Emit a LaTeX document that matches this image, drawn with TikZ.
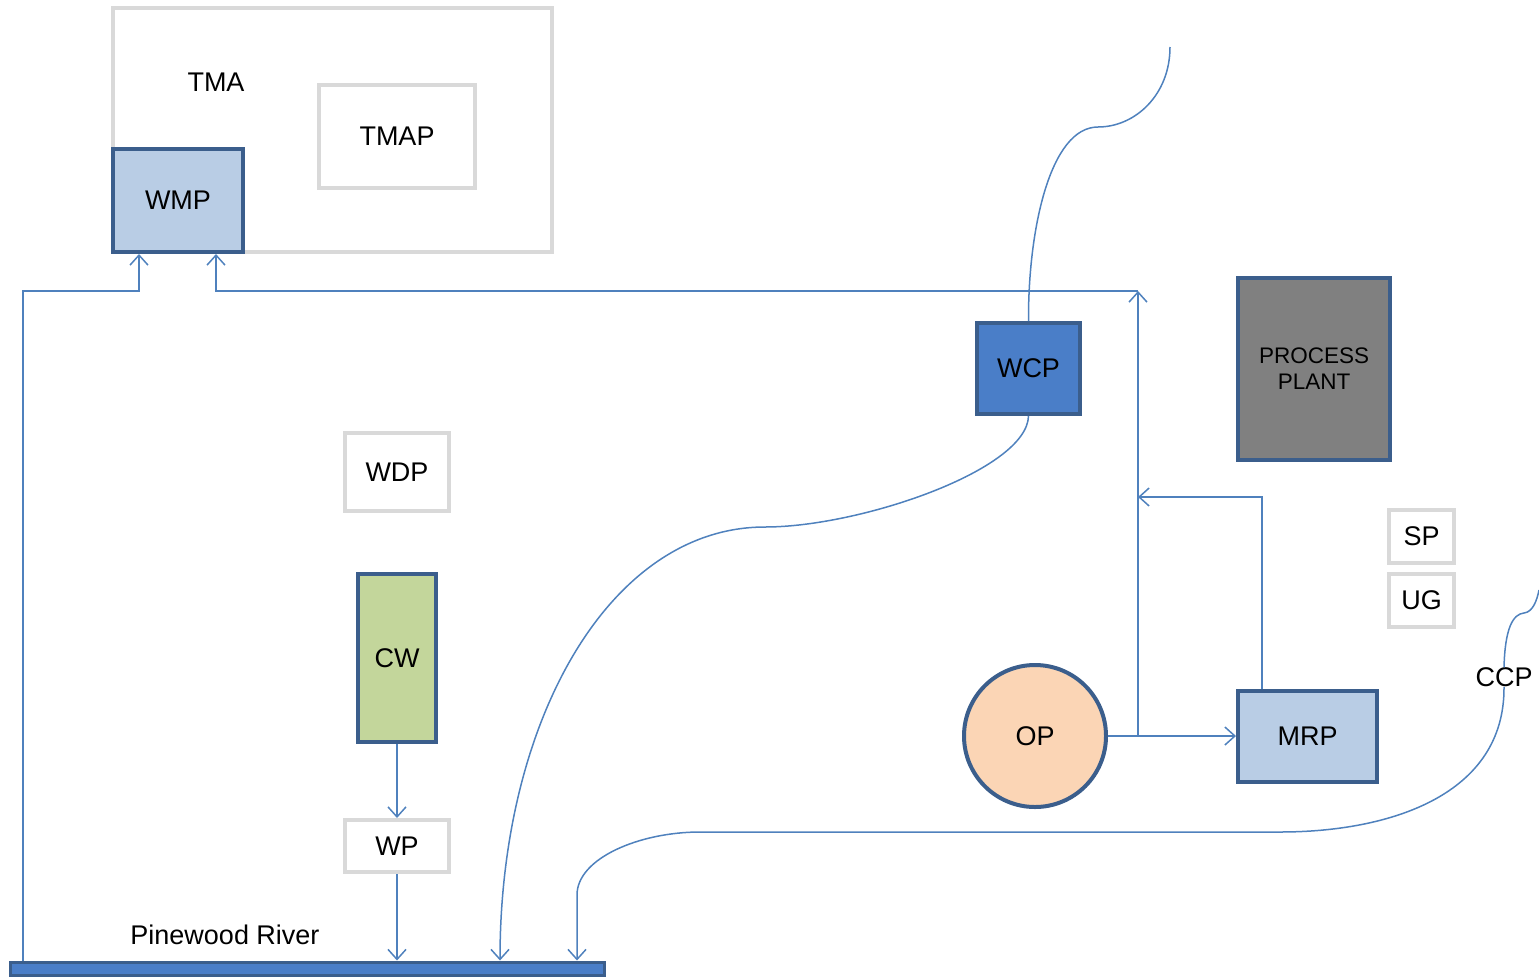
\documentclass[tikz,border=0pt]{standalone}
\usepackage{fontspec}
\setmainfont{Liberation Sans}
\usetikzlibrary{arrows.meta,calc}
\definecolor{edge}{HTML}{3B5E8C}
\definecolor{link}{HTML}{4F81BD}
\definecolor{lightgray}{HTML}{D9D9D9}
\definecolor{paleblue}{HTML}{B9CDE5}
\definecolor{midblue}{HTML}{4A7EC8}
\definecolor{cwgreen}{HTML}{C3D69B}
\definecolor{peach}{HTML}{FBD5B5}
\definecolor{ppgray}{HTML}{808080}
\tikzset{
  lbl/.style={font=\fontsize{27}{30}\selectfont, inner sep=0pt},
  graybox/.style={draw=lightgray, line width=4pt, fill=white, inner sep=0pt, font=\fontsize{27}{30}\selectfont},
  bluebox/.style={draw=edge, line width=4pt, inner sep=0pt, font=\fontsize{27}{30}\selectfont},
  arr/.style={draw=link, line width=1.5pt, -{Straight Barb[length=10pt,width=18pt,line width=1.5pt]}},
  plain/.style={draw=link, line width=1.5pt},
}
\begin{document}
\begin{tikzpicture}[x=1pt,y=-1pt]
\useasboundingbox (0,0) rectangle (1539,978);
% boxes
\node[graybox, minimum width=439pt, minimum height=244pt] (tma) at (332.5,130) {};
\node[lbl] (tmalbl) at (216,82) {TMA};
\node[graybox, minimum width=156pt, minimum height=103pt] (tmap) at (397,136.5) {TMAP};
\node[bluebox, fill=paleblue, minimum width=130pt, minimum height=103pt] (wmp) at (178,200.5) {WMP};
\node[bluebox, fill=midblue, minimum width=103pt, minimum height=91pt] (wcp) at (1028.5,368.5) {WCP};
\node[bluebox, fill=ppgray, minimum width=152pt, minimum height=182pt, align=center, font=\fontsize{22.5}{26}\selectfont] (pp) at (1314,369) {PROCESS\\PLANT};
\node[graybox, minimum width=104pt, minimum height=78pt] (wdp) at (397,472) {WDP};
\node[bluebox, fill=cwgreen, minimum width=78pt, minimum height=168pt] (cw) at (397,658) {CW};
\node[graybox, minimum width=104pt, minimum height=52pt] (wp) at (397,846) {WP};
\node[graybox, minimum width=65pt, minimum height=53pt] (sp) at (1421.5,536.5) {SP};
\node[graybox, minimum width=65pt, minimum height=53pt] (ug) at (1421.5,600.5) {UG};
\node[bluebox, fill=peach, circle, minimum size=142pt] (op) at (1035,736) {OP};
\node[bluebox, fill=paleblue, minimum width=139pt, minimum height=91pt] (mrp) at (1307.5,736) {MRP};
\node[draw=edge, fill=midblue, line width=3pt, minimum width=594pt, minimum height=13pt, inner sep=0pt] (river) at (307,968.5) {};
\node[lbl] (riverlbl) at (225,935) {Pinewood River};
\node[lbl] (ccp) at (1504,677) {CCP};
% free-end coordinates
\coordinate (topend) at (1170,47);
\coordinate (ccpend) at (1539,590);
\coordinate (junc) at (1138,291);
\coordinate (opj) at (1138,736);
% connectors
\draw[arr] (river.north -| 23,0) |- (139,291) -- (wmp.south -| 139,0);
\draw[arr] (opj) -- (junc);
\draw[arr] (junc) -- (216,291) -- (wmp.south -| 216,0);
\draw[plain] (op.east) -- (opj);
\draw[arr] (opj) -- (mrp.west);
\draw[arr] (mrp.north -| 1262,0) |- (1138,497);
\draw[arr] (cw.south) -- (wp.north);
\draw[arr] (wp.south) -- (river.north -| wp.south);
\draw[plain] (topend) .. controls (1170,95) and (1135,127) .. (1098,127)
  .. controls (1050,127) and (1028,230) .. (wcp.north);
\draw[arr] (wcp.south) .. controls (1027,470) and (860,527) .. (765,527)
  .. controls (610,527) and (500,720) .. (river.north -| 500,0);
\draw[plain] (ccp.north) .. controls (1505,628) and (1513,614) .. (1524,613)
  .. controls (1533,612) and (1537,600) .. (ccpend);
\draw[arr] (ccp.south) .. controls (1505,795) and (1390,832) .. (1280,832)
  -- (700,832) .. controls (640,832) and (577,858) .. (577,895) -- (river.north -| 577,0);
\end{tikzpicture}
\end{document}
